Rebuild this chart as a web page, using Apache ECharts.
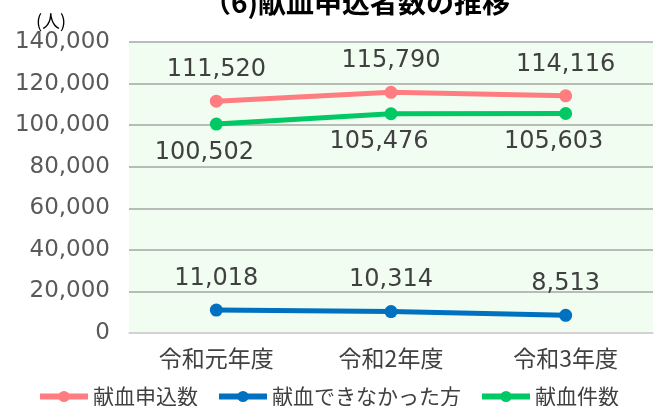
<!DOCTYPE html>
<html>
<head>
<meta charset="utf-8">
<script src="https://cdn.jsdelivr.net/npm/echarts@6/dist/echarts.min.js"></script>
<style>
  html, body { margin: 0; padding: 0; background: #fff; }
  #chart { width: 656px; height: 406px; }
</style>
</head>
<body>
<div id="chart"></div>
<script>
// 年度
const years = ['令和元年度', '令和2年度', '令和3年度'];
// 献血申込数
const applied = [111520, 115790, 114116];
// 献血できなかった方
const refused = [11018, 10314, 8513];
// 献血件数
const donated = [100502, 105476, 105603];
const yTicks = [0, 140000, 20000]; // min, max, interval

const font = '"Noto Sans CJK JP", "Noto Sans", sans-serif';
const numFont = '"DejaVu Sans", "Noto Sans CJK JP", sans-serif';
const labelColor = '#404040';

const fmt = (v) => v.toLocaleString('en-US');

function lineSeries(name, data, color, pos, dist, offset) {
  return {
    name,
    type: 'line',
    data,
    symbol: 'circle',
    symbolSize: 13,
    lineStyle: { color, width: 5 },
    itemStyle: { color },
    label: {
      show: true,
      position: pos,
      distance: dist,
      offset: offset || [0, 0],
      color: labelColor,
      fontFamily: numFont,
      fontSize: 24,
      formatter: (p) => fmt(p.value),
    },
  };
}

const chart = echarts.init(document.getElementById('chart'));
chart.setOption({
  animation: false,
  textStyle: { fontFamily: font },
  title: {
    text: '（6)献血申込者数の推移',
    left: 198,
    top: -17,
    textStyle: { fontFamily: font, fontSize: 28, fontWeight: 'bold', color: '#000' },
  },
  graphic: [{
    type: 'text',
    left: 36,
    top: 12,
    style: { text: '(人)', fontFamily: font, fontSize: 18, fill: '#000' },
  }],
  grid: {
    show: true,
    left: 129,
    right: 3,
    top: 42,
    bottom: 73,
    backgroundColor: '#F0FDF0',
    borderWidth: 0,
    containLabel: false,
  },
  legend: {
    top: 381,
    left: 32,
    itemWidth: 48,
    itemHeight: 14,
    itemGap: 18,
    lineStyle: { width: 6 },
    textStyle: { fontFamily: font, fontSize: 21, color: '#404040' },
    data: ['献血申込数', '献血できなかった方', '献血件数'],
  },
  xAxis: {
    type: 'category',
    data: years,
    boundaryGap: true,
    axisLine: { show: true, lineStyle: { color: '#D9D9D9', width: 1.5 } },
    axisTick: { show: false },
    axisLabel: { color: '#404040', fontFamily: font, fontSize: 23, margin: 14 },
  },
  yAxis: {
    type: 'value',
    min: yTicks[0],
    max: yTicks[1],
    interval: yTicks[2],
    axisLine: { show: false },
    axisTick: { show: false },
    axisLabel: {
      color: '#595959',
      fontFamily: numFont,
      fontSize: 23,
      margin: 19,
      formatter: (v) => fmt(v),
    },
    splitLine: { lineStyle: { color: '#A6A6A6', width: 1.5 } },
  },
  series: [
    lineSeries('献血申込数', applied, '#FF7C80', 'top', 13),
    lineSeries('献血できなかった方', refused, '#0070C0', 'top', 13),
    lineSeries('献血件数', donated, '#00C864', 'bottom', 10, [-12, 0]),
  ],
});
</script>
</body>
</html>
